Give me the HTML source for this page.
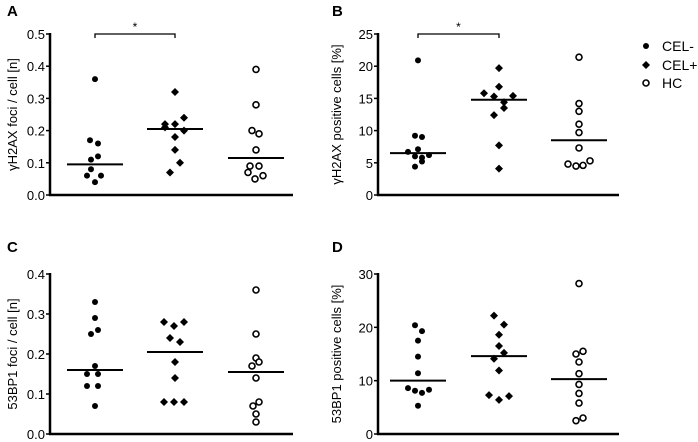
<!DOCTYPE html>
<html><head><meta charset="utf-8"><style>
body{margin:0;background:#fff;}
svg{display:block;font-family:"Liberation Sans",Arial,sans-serif;}
</style></head><body>
<svg id="c" width="698" height="442" viewBox="0 0 698 442"></svg>
<script>
const groups = ["CEL-","CEL+","HC"];
// Panel A: γH2AX foci / cell
const aCelNeg = [0.36,0.17,0.16,0.12,0.11,0.08,0.06,0.06,0.04];
const aCelPos = [0.32,0.22,0.22,0.24,0.21,0.20,0.18,0.14,0.10,0.07];
const aHC = [0.39,0.28,0.20,0.19,0.14,0.09,0.09,0.07,0.06,0.05];
const aMedians = [0.095,0.205,0.115];
const aTicks = ["0.0","0.1","0.2","0.3","0.4","0.5"];
// Panel B: γH2AX positive cells
const bCelNeg = [20.9,9.2,9.0,7.1,6.7,6.2,6.0,5.8,5.2,4.4];
const bCelPos = [19.7,16.8,15.8,15.4,15.3,14.4,13.5,12.4,7.7,4.1];
const bHC = [21.4,14.2,13.0,11.0,9.7,7.3,4.8,4.5,4.6,5.3];
const bMedians = [6.5,14.8,8.5];
const bTicks = ["0","5","10","15","20","25"];
// Panel C: 53BP1 foci / cell
const cCelNeg = [0.33,0.29,0.26,0.25,0.17,0.15,0.15,0.12,0.12,0.07];
const cCelPos = [0.28,0.28,0.27,0.24,0.23,0.18,0.14,0.08,0.08,0.08];
const cHC = [0.36,0.25,0.19,0.18,0.17,0.14,0.08,0.07,0.05,0.03];
const cMedians = [0.16,0.205,0.155];
const cTicks = ["0.0","0.1","0.2","0.3","0.4"];
// Panel D: 53BP1 positive cells
const dCelNeg = [20.4,19.3,17.5,14.5,11.4,8.6,8.1,7.7,8.3,5.3];
const dCelPos = [22.2,20.5,18.6,16.5,15.2,14.1,11.9,7.3,6.4,7.1];
const dHC = [28.2,15.5,15.0,13.5,11.3,9.3,7.6,5.8,2.5,3.0];
const dMedians = [10,14.6,10.3];
const dTicks = ["0","10","20","30"];
// horizontal jitter (swarm offsets, px)
const aJit=[[0,-5,3,3,-4,-4,-8,6,0],[0,-10,0,9,-10,9,0,0,5,-5],[0,0,-4,3,0,-6,3,-8,7,-1]];
const bJit=[[0,-3,4,0,-10,11,-3,4,4,-3],[0,0,-15,14,-5,5,5,-5,0,0],[0,0,0,0,0,0,-11,-3,4,11]];
const cJit=[[0,0,3,-4,0,-8,3,-8,3,0],[-11,9,-1,-5,5,0,0,-11,-1,9],[0,0,0,3,-4,0,3,-3,0,0]];
const dJit=[[-3,4,0,0,0,-10,-3,4,11,0],[-5,5,0,0,5,-5,0,-10,0,10],[0,4,-3,0,0,0,0,0,-3,4]];

const svg=document.getElementById('c');
const NS='http://www.w3.org/2000/svg';
function mk(t,a,p){const e=document.createElementNS(NS,t);for(const k in a)e.setAttribute(k,a[k]);(p||svg).appendChild(e);return e;}

function panel(o){
  const g=mk('g',{});
  
  
  const max=parseFloat(o.ticks[o.ticks.length-1]);
  const y=v=>o.y0-(v/max)*(o.y0-o.y1);
  const cx=[o.ax+o.cOff[0],o.ax+o.cOff[1],o.ax+o.cOff[2]];
  const lt=mk('text',{x:o.lx,y:o.ly,'font-size':15,'font-weight':'bold'},g);lt.textContent=o.letter;
  
  const yl=mk('text',{x:0,y:0,'font-size':13,'text-anchor':'middle',transform:`translate(${o.labelX},${(o.y0+o.y1)/2}) rotate(-90)`},g);
  yl.textContent=o.ylabel;
  
  mk('line',{x1:o.ax,y1:o.y1-1,x2:o.ax,y2:o.y0+1,stroke:'#000','stroke-width':2.5},g);
  const xa=mk('line',{x1:o.ax-1,y1:o.y0,x2:o.xend,y2:o.y0,stroke:'#000','stroke-width':2.5},g);
  
  o.ticks.forEach(t=>{const v=parseFloat(t);const yy=y(v);
    mk('line',{x1:o.ax-4,y1:yy,x2:o.ax,y2:yy,stroke:'#000','stroke-width':1.5},g);
    const tx=mk('text',{x:o.ax-5,y:yy+5,'font-size':13,'text-anchor':'end'},g);tx.textContent=t;
    });
  o.series.forEach((s,gi)=>{
    s.forEach((v,i)=>{const px=cx[gi]+(o.jit[gi][i]||0),py=y(v);let m;
      if(gi===0)m=mk('circle',{cx:px,cy:py,r:3,fill:'#000'},g);
      else if(gi===1)m=mk('path',{d:`M${px} ${py-4}L${px+4} ${py}L${px} ${py+4}L${px-4} ${py}Z`,fill:'#000'},g);
      else m=mk('circle',{cx:px,cy:py,r:3,fill:'#fff',stroke:'#000','stroke-width':1.6},g);
      
      });
    const md=mk('line',{x1:cx[gi]-28,x2:cx[gi]+28,y1:y(o.med[gi]),y2:y(o.med[gi]),stroke:'#000','stroke-width':2},g);
    
  });
  if(o.sig){const by=o.y1;
    const b=mk('path',{d:`M${cx[0]} ${by+4}V${by}H${cx[1]}V${by+4}`,fill:'none',stroke:'#000','stroke-width':1.3},g);
    
    const st=mk('text',{x:(cx[0]+cx[1])/2,y:by-3,'font-size':12,'text-anchor':'middle'},g);st.textContent='*';
    }
}
panel({name:'panel-a',letter:'A',lx:7,ly:16,ax:50,y0:195,y1:34,xend:293,cOff:[45,125,206],ticks:aTicks,ylabel:'γH2AX foci / cell [n]',series:[aCelNeg,aCelPos,aHC],med:aMedians,jit:aJit,sig:true,labelX:17});
panel({name:'panel-b',letter:'B',lx:332,ly:16,ax:378,y0:195,y1:34,xend:619,cOff:[40,121,201],ticks:bTicks,ylabel:'γH2AX positive cells [%]',series:[bCelNeg,bCelPos,bHC],med:bMedians,jit:bJit,sig:true,labelX:341});
panel({name:'panel-c',letter:'C',lx:7,ly:252,ax:50,y0:434,y1:274,xend:293,cOff:[45,125,206],ticks:cTicks,ylabel:'53BP1 foci / cell [n]',series:[cCelNeg,cCelPos,cHC],med:cMedians,jit:cJit,labelX:17});
panel({name:'panel-d',letter:'D',lx:332,ly:252,ax:378,y0:434,y1:274,xend:619,cOff:[40,121,201],ticks:dTicks,ylabel:'53BP1 positive cells [%]',series:[dCelNeg,dCelPos,dHC],med:dMedians,jit:dJit,labelX:341});
// legend
const lg=mk('g',{});


const ly=[46,65,83];
groups.forEach((gname,i)=>{const x=646,yy=ly[i];
  if(i===0)mk('circle',{cx:x,cy:yy,r:3,fill:'#000'},lg);
  else if(i===1)mk('path',{d:`M${x} ${yy-4}L${x+4} ${yy}L${x} ${yy+4}L${x-4} ${yy}Z`,fill:'#000'},lg);
  else mk('circle',{cx:x,cy:yy,r:3,fill:'#fff',stroke:'#000','stroke-width':1.6},lg);
  const t=mk('text',{x:662,y:yy+5,'font-size':14},lg);t.textContent=gname;
  
  });
</script>
</body></html>
